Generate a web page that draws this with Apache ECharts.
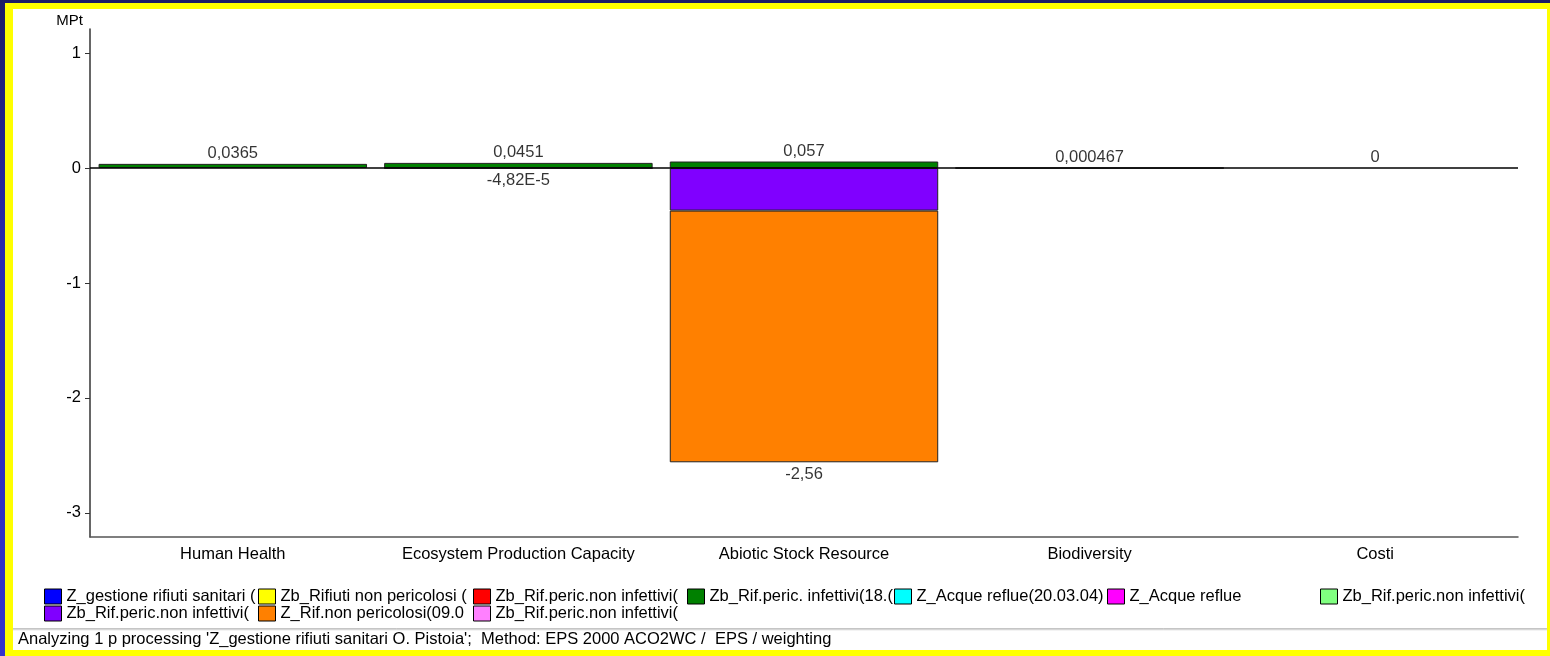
<!DOCTYPE html>
<html>
<head>
<meta charset="utf-8">
<script src="https://cdn.jsdelivr.net/npm/echarts@6/dist/echarts.min.js"></script>
<style>
  html, body { margin: 0; padding: 0; width: 1550px; height: 656px; overflow: hidden; }
  body { background: linear-gradient(180deg, #1c1c66 0%, #2a2ab0 40%, #3434cc 100%); position: relative; }
  #yellow { position: absolute; left: 5px; top: 3px; width: 1545px; height: 653px; background: #ffff00; }
  #white { position: absolute; left: 13px; top: 9px; width: 1534px; height: 641px; background: #ffffff; }
  #chart { position: absolute; left: 0; top: 0; width: 1550px; height: 656px; }
</style>
</head>
<body>
<div id="yellow"></div>
<div id="white"></div>
<div id="chart"></div>
<script>
// ---- data ----
const categories = ['Human Health', 'Ecosystem Production Capacity', 'Abiotic Stock Resource', 'Biodiversity', 'Costi'];
const yTickValues = [-3, -2, -1, 0, 1];
const yMin = -3.21;
const yMax = 1.21;

const seriesLabels = [
  'Z_gestione rifiuti sanitari (',
  'Zb_Rifiuti non pericolosi (',
  'Zb_Rif.peric.non infettivi(',
  'Zb_Rif.peric. infettivi(18.(',
  'Z_Acque reflue(20.03.04)',
  'Z_Acque reflue',
  'Zb_Rif.peric.non infettivi(',
  'Zb_Rif.peric.non infettivi(',
  'Z_Rif.non pericolosi(09.0',
  'Zb_Rif.peric.non infettivi('
];
const seriesColors = ['#0000ff', '#ffff00', '#ff0000', '#008000', '#00ffff', '#ff00ff', '#80ff80', '#8000ff', '#ff8000', '#ff80ff'];

const vGestione      = [0, 0, 0, 0, 0];
const vRifNonPer     = [0, 0, 0, 0, 0];
const vRifPerNonInf1 = [0, 0, 0, 0, 0];
const vRifPerInf     = [0.0365, 0.0451, 0.057, 0.000467, 0];
const vAcqueReflue2  = [0, 0, 0, 0, 0];
const vAcqueReflue   = [0, 0, 0, 0, 0];
const vRifPerNonInf2 = [0, 0, 0, 0, 0];
const vRifPerNonInf3 = [0, -0.0000482, -0.37, 0, 0];
const vZRifNonPer    = [0, 0, -2.19, 0, 0];
const vRifPerNonInf4 = [0, 0, 0, 0, 0];
const seriesValues = [vGestione, vRifNonPer, vRifPerNonInf1, vRifPerInf, vAcqueReflue2, vAcqueReflue, vRifPerNonInf2, vRifPerNonInf3, vZRifNonPer, vRifPerNonInf4];

// ---- helpers ----
function fmt(v) {
  if (v === 0) return '0';
  let s;
  if (Math.abs(v) < 1e-4) s = v.toExponential(2).replace('e', 'E');
  else s = String(Number(v.toPrecision(3)));
  return s.replace('.', ',');
}
const posTotals = categories.map((c, j) => seriesValues.reduce((a, arr) => a + (arr[j] > 0 ? arr[j] : 0), 0));
const negTotals = categories.map((c, j) => seriesValues.reduce((a, arr) => a + (arr[j] < 0 ? arr[j] : 0), 0));

const FONT = '"Liberation Sans", Arial, sans-serif';
const FS = 16.5;

const series = seriesValues.map((arr, i) => {
  const s = {
    name: 's' + i,
    type: 'bar',
    stack: 'total',
    barWidth: '94%',
    data: arr.map(v => (v === 0 ? null : v)),
    itemStyle: { color: seriesColors[i], borderColor: '#222', borderWidth: 1 },
    emphasis: { disabled: true },
    silent: true
  };
  if (i === 3) {
    s.markLine = {
      silent: true,
      symbol: ['none', 'none'],
      label: { show: false },
      lineStyle: { color: '#000', width: 1.5, type: 'solid' },
      data: [{ yAxis: 0 }],
      z: 10
    };
  }
  return s;
});
series.push({
  type: 'scatter', name: 'posTot', symbolSize: 0, silent: true,
  data: posTotals,
  label: { show: true, position: 'top', distance: 2, color: '#000', fontFamily: FONT, fontSize: FS,
    formatter: p => fmt(p.value) },
  z: 20
});
series.push({
  type: 'scatter', name: 'negTot', symbolSize: 0, silent: true,
  data: negTotals.map(v => (v < 0 ? v : null)),
  label: { show: true, position: 'bottom', distance: 4, color: '#000', fontFamily: FONT, fontSize: FS,
    formatter: p => fmt(p.value) },
  z: 20
});

// legend: grid of fixed-width columns
const legendCols = [44, 258, 473, 687, 894, 1107, 1320];
const legends = seriesLabels.map((lab, i) => {
  const row = i < 7 ? 0 : 1;
  const col = i < 7 ? i : i - 7;
  return {
    data: ['s' + i],
    left: legendCols[col],
    top: row === 0 ? 588 : 605,
    padding: 0,
    itemWidth: 17,
    itemHeight: 15,
    icon: 'rect',
    selectedMode: false,
    itemStyle: { borderColor: '#000', borderWidth: 1 },
    formatter: () => lab,
    textStyle: { fontFamily: FONT, fontSize: FS, color: '#000', width: 192, overflow: 'truncate', ellipsis: '' }
  };
});

const chart = echarts.init(document.getElementById('chart'), null, { renderer: 'canvas' });
chart.setOption({
  backgroundColor: 'transparent',
  animation: false,
  textStyle: { fontFamily: FONT },
  grid: { left: 90, right: 32, top: 29, bottom: 119 },
  legend: legends,
  xAxis: {
    type: 'category',
    data: categories,
    axisLine: { onZero: false, lineStyle: { color: '#555', width: 1.5 } },
    axisTick: { show: false },
    axisLabel: { color: '#000', fontFamily: FONT, fontSize: FS, margin: 9, interval: 0 },
    splitLine: { show: false }
  },
  yAxis: {
    type: 'value',
    min: yMin,
    max: yMax,
    name: 'MPt',
    nameLocation: 'end',
    nameGap: 1,
    nameTextStyle: { color: '#000', fontFamily: FONT, fontSize: 15, align: 'right', verticalAlign: 'bottom', padding: [0, 7, 0, 0] },
    axisLine: { show: true, lineStyle: { color: '#333', width: 1.5 } },
    axisTick: { show: true, length: 5, lineStyle: { color: '#333' }, customValues: yTickValues },
    axisLabel: { color: '#000', fontFamily: FONT, fontSize: FS, margin: 9, customValues: yTickValues,
      formatter: v => String(v) },
    splitLine: { show: false }
  },
  series: series,
  graphic: [
    { type: 'line', shape: { x1: 13, y1: 629, x2: 1547, y2: 629 }, style: { stroke: '#8a8a8a', lineWidth: 1 } },
    { type: 'line', shape: { x1: 13, y1: 630, x2: 1547, y2: 630 }, style: { stroke: '#e8e8e8', lineWidth: 1 } },
    { type: 'text', left: 18, top: 631,
      style: { text: "Analyzing 1 p processing 'Z_gestione rifiuti sanitari O. Pistoia';  Method: EPS 2000 ACO2WC /  EPS / weighting",
        font: FS + 'px ' + FONT, fill: '#000' } }
  ]
});
</script>
</body>
</html>
